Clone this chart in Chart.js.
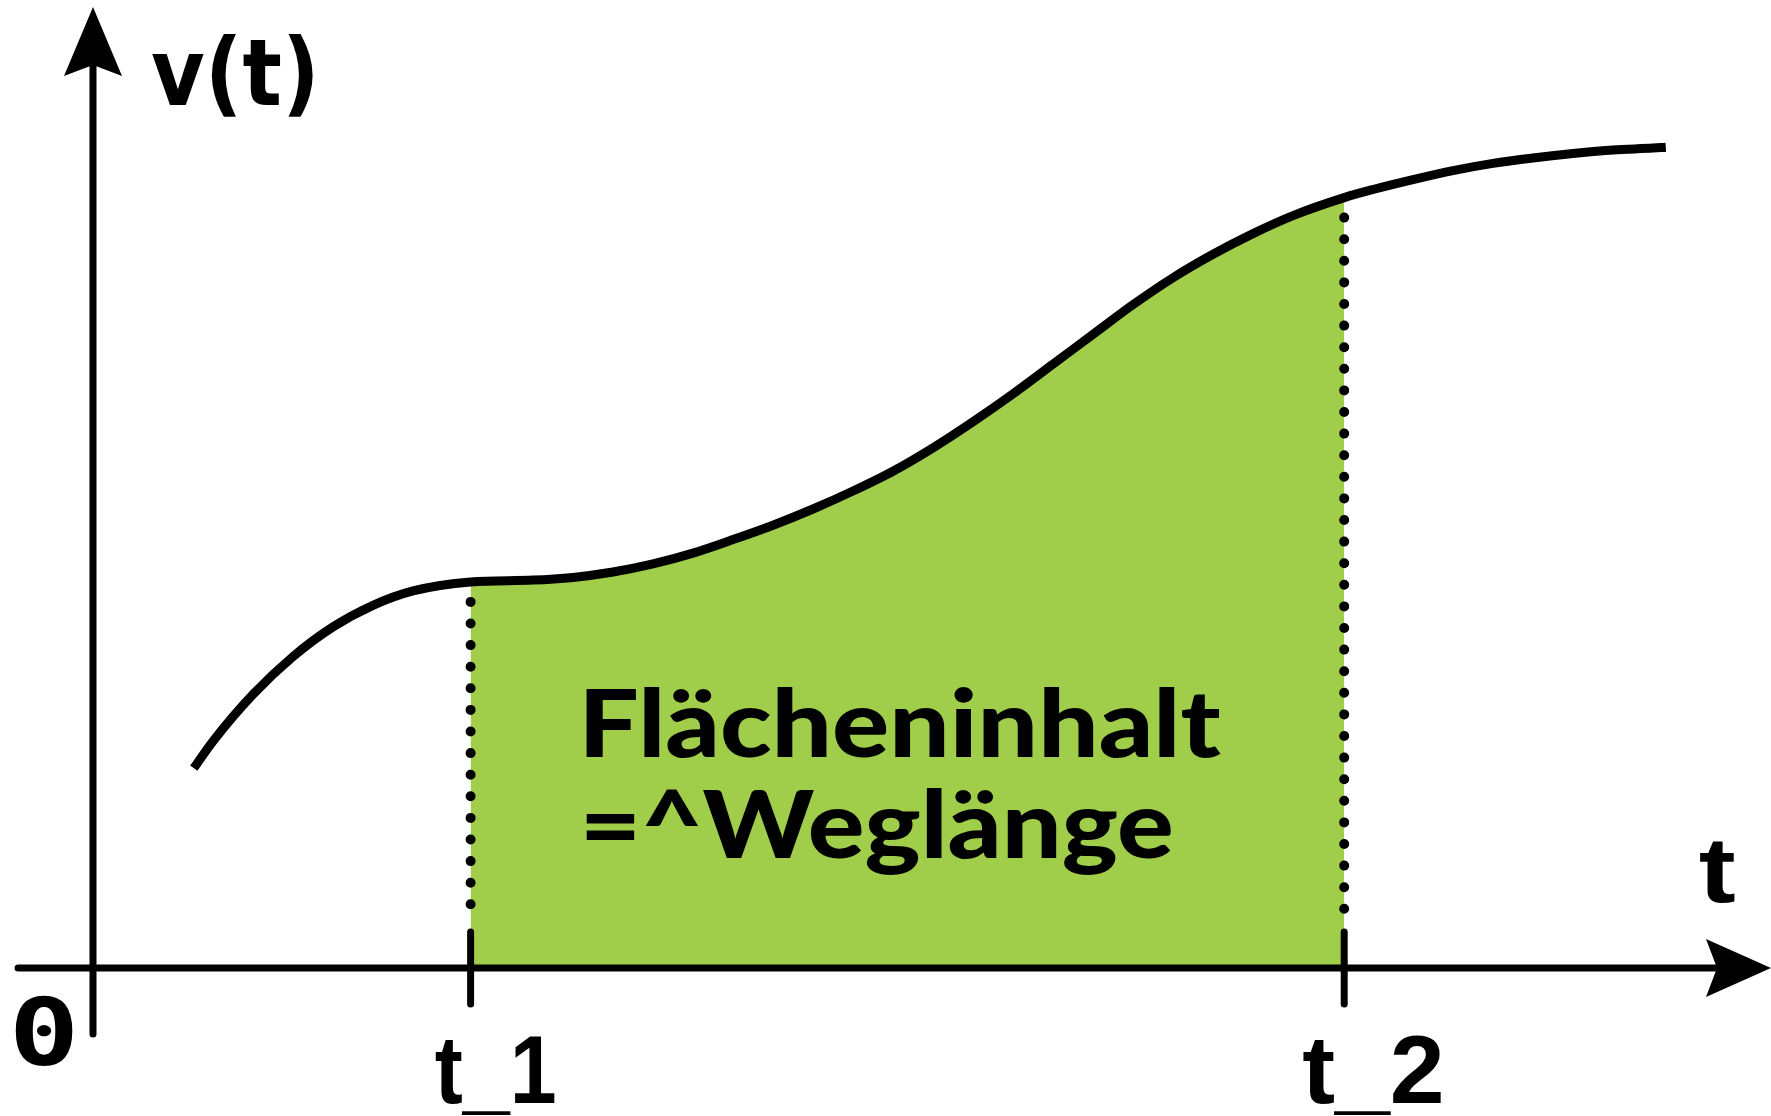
<!DOCTYPE html>
<html lang="de">
<head>
<meta charset="utf-8">
<title>v(t) – Flächeninhalt = Weglänge</title>
<script src="https://cdn.jsdelivr.net/npm/chart.js@4/dist/chart.umd.min.js"></script>
<style>
  html, body { margin: 0; padding: 0; background: #ffffff; }
  #wrap { width: 1771px; height: 1116px; }
  canvas { display: block; }
</style>
</head>
<body>
<div id="wrap"><canvas id="chart" width="1771" height="1116"></canvas></div>
<script>
// Velocity curve v(t), sampled along the time axis
const curveT = [0.63, 0.75, 1.00, 1.25, 1.50, 1.75, 2.00, 2.36, 2.75, 3.00, 3.25, 3.50, 3.75, 4.00, 4.25, 4.50, 4.75, 5.00, 5.25, 5.50, 5.75, 6.00, 6.25, 6.50, 6.75, 7.00, 7.25, 7.50, 7.82, 8.00, 8.25, 8.50, 8.75, 9.00, 9.25, 9.50, 9.75, 9.83];
const curveV = [2.22, 2.52, 3.04, 3.46, 3.79, 4.03, 4.19, 4.29, 4.31, 4.34, 4.40, 4.49, 4.61, 4.76, 4.92, 5.10, 5.30, 5.52, 5.78, 6.07, 6.38, 6.71, 7.04, 7.37, 7.67, 7.93, 8.16, 8.36, 8.56, 8.65, 8.76, 8.86, 8.94, 9.00, 9.05, 9.09, 9.11, 9.12];

// Integration bounds
const t1 = 2.36;
const t2 = 7.82;

// Axis marks and labels
const tickValues = [0, t1, t2];
const tickLabels = ['0', 't_1', 't_2'];
const axisTitleX = 't';
const axisTitleY = 'v(t)';
const areaCaption = ['Flächeninhalt', '=^Weglänge'];

const GREEN = '#a0cd4a';
const INK = '#000000';

const curvePoints = curveT.map((t, i) => ({ x: t, y: curveV[i] }));
const areaPoints = curvePoints.filter(p => p.x >= t1 && p.x <= t2);

// Draw text so its ink spans a given width, starting at a given left edge
function drawInk(ctx, text, font, inkLeft, baseline, inkWidth) {
  ctx.save();
  ctx.font = font;
  ctx.textAlign = 'left';
  ctx.textBaseline = 'alphabetic';
  const m = ctx.measureText(text);
  const w = m.actualBoundingBoxLeft + m.actualBoundingBoxRight;
  const sx = inkWidth / w;
  ctx.translate(inkLeft, baseline);
  ctx.scale(sx, 1);
  ctx.fillStyle = INK;
  ctx.fillText(text, m.actualBoundingBoxLeft, 0);
  ctx.restore();
}

const sketchPlugin = {
  id: 'sketch',
  afterDatasetsDraw(chart) {
    const { ctx, chartArea: a, scales: { x, y } } = chart;
    const x0 = x.getPixelForValue(0);
    const y0 = y.getPixelForValue(0);

    ctx.save();
    ctx.strokeStyle = INK;
    ctx.fillStyle = INK;

    // dotted drop lines from the curve, plus tick marks on the t axis
    [t1, t2].forEach(t => {
      const px = x.getPixelForValue(t);
      const py = y.getPixelForValue(curveV[curveT.indexOf(t)]);
      ctx.lineWidth = 10;
      ctx.lineCap = 'round';
      ctx.setLineDash([0, 21.6]);
      ctx.beginPath();
      ctx.moveTo(px, py + 20);
      ctx.lineTo(px, y0 - 58);
      ctx.stroke();
      ctx.setLineDash([]);
      ctx.lineWidth = 7;
      ctx.beginPath();
      ctx.moveTo(px, y0 - 36);
      ctx.lineTo(px, y0 + 36);
      ctx.stroke();
    });

    // axes
    const tipX = a.right + 78;
    const tipY = a.top - 61;
    ctx.lineWidth = 7;
    ctx.lineCap = 'round';
    ctx.beginPath();
    ctx.moveTo(x0 - 75, y0);
    ctx.lineTo(tipX - 55, y0);
    ctx.stroke();
    ctx.beginPath();
    ctx.moveTo(x0, y0 + 66);
    ctx.lineTo(x0, tipY + 60);
    ctx.stroke();

    // arrow heads
    ctx.beginPath();
    ctx.moveTo(tipX, y0);
    ctx.lineTo(tipX - 65, y0 - 29);
    ctx.lineTo(tipX - 54, y0);
    ctx.lineTo(tipX - 65, y0 + 29);
    ctx.closePath();
    ctx.fill();
    ctx.beginPath();
    ctx.moveTo(x0, tipY);
    ctx.lineTo(x0 - 29, tipY + 69);
    ctx.lineTo(x0, tipY + 58);
    ctx.lineTo(x0 + 29, tipY + 69);
    ctx.closePath();
    ctx.fill();
    ctx.restore();
  },
  afterDraw(chart) {
    const { ctx, chartArea: a, scales: { x, y } } = chart;
    const x0 = x.getPixelForValue(0);
    const y0 = y.getPixelForValue(0);
    const p1 = x.getPixelForValue(t1);

    // axis titles
    drawInk(ctx, axisTitleY, 'bold 93px "DejaVu Sans"', x0 + 59, a.top + 37, 161);
    drawInk(ctx, axisTitleX, 'bold 92px "Liberation Sans"', a.right + 7, y0 - 66, 35);

    // tick labels
    const labelFit = [
      { font: 'bold 93px "DejaVu Sans Mono"', dx: -78, dy: 97, w: 58 },
      { font: 'bold 96px "Liberation Sans"', dx: -35, dy: 135, w: 119 },
      { font: 'bold 96px "Liberation Sans"', dx: -41, dy: 135, w: 138 }
    ];
    tickValues.forEach((v, i) => {
      const f = labelFit[i];
      drawInk(ctx, tickLabels[i], f.font, x.getPixelForValue(v) + f.dx, y0 + f.dy, f.w);
    });

    // caption inside the shaded area
    drawInk(ctx, areaCaption[0], '900 93px "Lato"', p1 + 116, y0 - 211, 634);
    drawInk(ctx, areaCaption[1], '900 93px "Lato"', p1 + 116, y0 - 110, 585);
  }
};

new Chart(document.getElementById('chart'), {
  type: 'line',
  data: {
    datasets: [
      {
        label: 'v(t)',
        data: curvePoints,
        order: 0,
        borderColor: INK,
        borderWidth: 9,
        borderCapStyle: 'butt',
        fill: false,
        cubicInterpolationMode: 'monotone',
        pointRadius: 0
      },
      {
        label: 'Fläche',
        data: areaPoints,
        order: 1,
        borderWidth: 0,
        borderColor: 'rgba(0,0,0,0)',
        backgroundColor: GREEN,
        fill: 'origin',
        cubicInterpolationMode: 'monotone',
        pointRadius: 0
      }
    ]
  },
  options: {
    responsive: false,
    devicePixelRatio: 1,
    animation: false,
    layout: { padding: { left: 93, right: 78, top: 68, bottom: 148 } },
    scales: {
      x: { type: 'linear', min: 0, max: 10, display: false },
      y: { type: 'linear', min: 0, max: 10, display: false }
    },
    plugins: {
      legend: { display: false },
      tooltip: { enabled: false }
    },
    events: []
  },
  plugins: [sketchPlugin]
});
</script>
</body>
</html>
